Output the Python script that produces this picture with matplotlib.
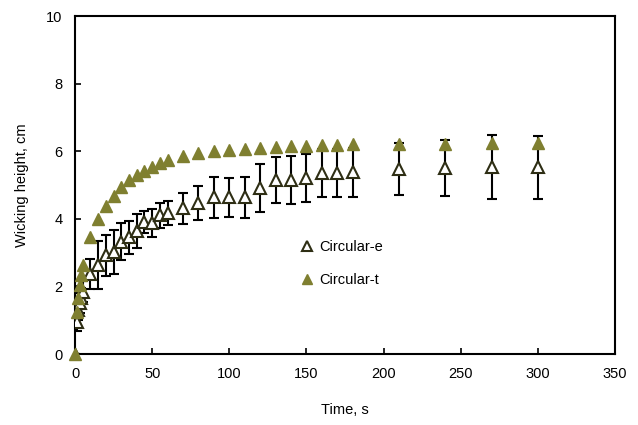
import matplotlib
matplotlib.use('Agg')
import matplotlib.pyplot as plt

plt.rcParams['font.family'] = ['Liberation Sans', 'DejaVu Sans']

# Sampling times (s)
time_s = [0, 1, 2, 3, 4, 5, 10, 15, 20, 25, 30, 35, 40, 45, 50, 55, 60,
          70, 80, 90, 100, 110, 120, 130, 140, 150, 160, 170, 180,
          210, 240, 270, 300]

# Experimental wicking height (cm) with standard deviation
circ_e = [0, 0.95, 1.3, 1.5, 1.65, 1.85, 2.37, 2.63, 2.92, 3.03, 3.33, 3.45,
          3.63, 3.91, 3.88, 4.10, 4.18, 4.31, 4.47, 4.64, 4.64, 4.64, 4.91,
          5.15, 5.15, 5.21, 5.36, 5.36, 5.38, 5.47, 5.50, 5.53, 5.53]
circ_e_err = [0, 0.27, 0.3, 0.3, 0.3, 0.3, 0.44, 0.72, 0.6, 0.65, 0.55, 0.48,
              0.5, 0.33, 0.42, 0.37, 0.36, 0.45, 0.5, 0.6, 0.57, 0.6, 0.72,
              0.68, 0.7, 0.71, 0.7, 0.7, 0.72, 0.77, 0.83, 0.95, 0.93]

# Theoretical wicking height (cm)
circ_t = [0, 1.25, 1.65, 2.05, 2.35, 2.63, 3.45, 3.99, 4.38, 4.68, 4.93, 5.14,
          5.30, 5.43, 5.55, 5.65, 5.73, 5.86, 5.94, 6.0, 6.05, 6.08, 6.1,
          6.13, 6.15, 6.17, 6.19, 6.2, 6.21, 6.22, 6.23, 6.25, 6.25]

fig = plt.figure(figsize=(6.38, 4.25), dpi=100)
ax = fig.add_axes([0.1176, 0.167, 0.8464, 0.795])

ax.errorbar(time_s, circ_e, yerr=circ_e_err, fmt='none', ecolor='black',
            elinewidth=1.5, capsize=3.5, capthick=1.5, zorder=2)
ax.plot(time_s, circ_e, linestyle='none', marker='^', markersize=8,
        markerfacecolor='white', markeredgecolor='#2e2e14',
        markeredgewidth=1.5, label='Circular-e', zorder=3)
ax.plot(time_s, circ_t, linestyle='none', marker='^', markersize=8.5,
        color='#7f7f30', label='Circular-t', zorder=4, clip_on=False)

ax.set_xlim(0, 350)
ax.set_ylim(0, 10)
ax.set_xticks(range(0, 351, 50))
ax.set_yticks(range(0, 11, 2))
ax.tick_params(direction='in', length=4, width=1.2, labelsize=10.5,
               top=False, right=False, pad=9)
for s in ax.spines.values():
    s.set_linewidth(1.5)

ax.set_xlabel('Time, s', fontsize=10.5, labelpad=16)
ax.set_ylabel('Wicking height, cm', fontsize=10.5, labelpad=12)

ax.legend(loc='upper left', bbox_to_anchor=(0.39, 0.375), frameon=False,
          fontsize=10.5, labelspacing=1.3, handletextpad=0.3,
          handlelength=1.1, markerscale=0.85)

fig.savefig('out.png', dpi=100)
